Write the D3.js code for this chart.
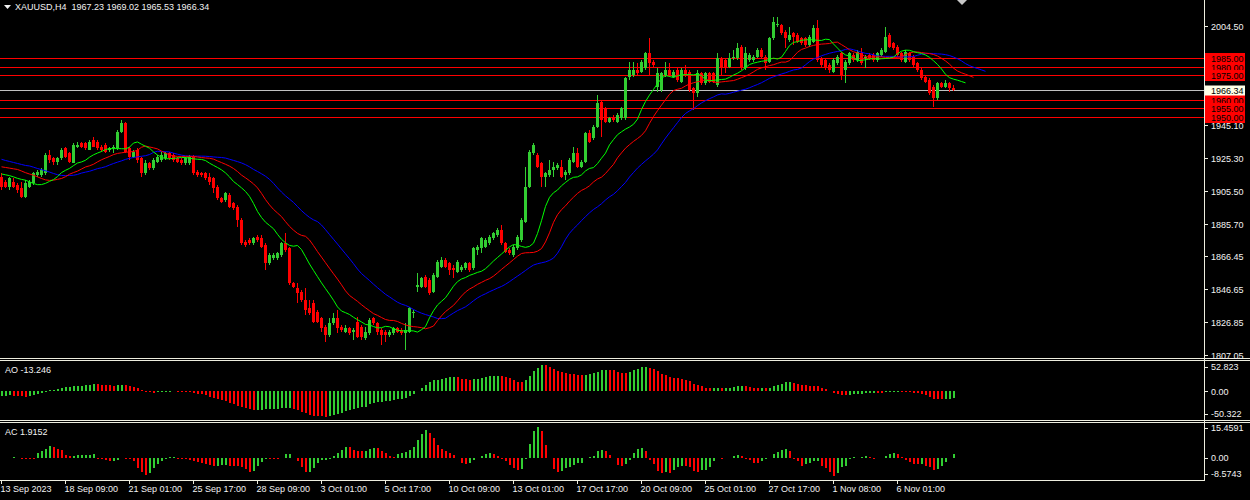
<!DOCTYPE html>
<html>
<head>
<meta charset="utf-8">
<script src="https://cdn.jsdelivr.net/npm/d3@7"></script>
<style>
html, body { margin: 0; padding: 0; background: #000; overflow: hidden; }
svg { display: block; }
text { font-family: "Liberation Sans", Arial, sans-serif; font-size: 9px; white-space: pre; }
</style>
</head>
<body>
<svg id="chart" width="1250" height="500"></svg>
<script>
// XAUUSD H4 candles (bar 0 = 13 Sep 2023)
const opens = [
1914,1911,1908,1911,1909,1907,1902,1908,1910,1915,1915,1916,1927,1925,1923,1925,1931,1928,1922,1932,
1934,1934,1930,1936,1935,1932,1933,1930,1931,1931,1941,1946,1931,1926,1930,1925,1916,1922,1919,1923,
1924,1925,1928,1927,1925,1924,1922,1922,1926,1917,1916,1916,1914,1913,1908,1901,1900,1903,1898,1896,
1888,1875,1876,1874,1878,1877,1873,1862,1865,1865,1867,1874,1871,1850,1847,1845,1840,1835,1838,1833,
1829,1824,1819,1826,1829,1824,1821,1823,1821,1827,1824,1817,1820,1829,1826,1822,1821,1819,1820,1823,
1822,1820,1821,1832,1848,1848,1854,1852,1845,1854,1860,1864,1862,1859,1857,1858,1859,1862,1859,1870,
1871,1872,1874,1877,1879,1882,1874,1870,1867,1871,1876,1887,1908,1928,1927,1922,1914,1915,1918,1919,
1920,1915,1916,1923,1928,1920,1923,1940,1937,1944,1959,1955,1947,1950,1947,1949,1949,1974,1975,1978,
1977,1979,1988,1983,1968,1966,1975,1978,1974,1978,1971,1978,1977,1967,1964,1976,1970,1976,1976,1969,
1985,1984,1980,1985,1985,1992,1979,1984,1984,1986,1990,1986,1983,1997,2005,2005,2001,1996,2000,1999,
1997,1997,1993,1995,2003,1985,1984,1981,1977,1982,1988,1978,1982,1987,1984,1988,1985,1987,1987,1984,
1987,1989,1999,1994,1992,1988,1983,1988,1986,1982,1978,1974,1972,1968,1961,1970,1968,1970,1967.23
];
const highs = [
1916,1912,1914,1913,1910,1911,1912,1912,1917,1918,1919,1928,1930,1926,1926,1931,1932,1929,1934,1935,
1935,1935,1936,1938,1936,1933,1934,1932,1933,1942,1948,1947,1932,1930,1931,1926,1924,1923,1925,1927,
1929,1929,1929,1928,1926,1925,1926,1927,1927,1918,1917,1917,1916,1914,1909,1902,1905,1904,1899,1897,
1889,1876,1877,1878,1879,1879,1874,1868,1868,1869,1875,1880,1872,1851,1850,1846,1847,1840,1840,1834,
1830,1825,1829,1832,1834,1825,1825,1824,1823,1830,1825,1824,1829,1830,1827,1823,1822,1822,1824,1824,
1823,1826,1836,1834,1856,1854,1855,1853,1856,1864,1866,1865,1863,1861,1864,1861,1863,1863,1872,1873,
1878,1877,1879,1881,1883,1885,1875,1871,1873,1879,1889,1920,1930,1934,1928,1923,1917,1924,1923,1922,
1924,1918,1925,1932,1931,1924,1941,1942,1945,1963,1960,1956,1950,1951,1952,1956,1974,1983,1983,1982,
1984,1989,1997,1984,1979,1977,1983,1982,1978,1980,1979,1981,1978,1968,1978,1977,1977,1977,1977,1988,
1986,1985,1988,1990,1994,1993,1992,1988,1987,1991,1991,1987,1998,2010,2010,2006,2002,2004,2001,2000,
1998,1998,1999,2005,2008,1986,1985,1982,1985,1987,1989,1984,1989,1988,1990,1991,1987,1988,1988,1989,
1991,2004,2000,1995,1993,1989,1990,1989,1987,1983,1979,1975,1973,1969,1971,1971,1972,1971,1969.02
];
const lows = [
1906,1907,1906,1907,1904,1901,1901,1907,1909,1914,1914,1915,1922,1921,1921,1924,1925,1922,1922,1931,
1931,1930,1930,1932,1930,1929,1928,1929,1928,1930,1940,1928,1924,1925,1922,1914,1915,1918,1918,1922,
1923,1924,1924,1923,1922,1921,1921,1921,1915,1914,1914,1912,1909,1904,1900,1898,1899,1895,1894,1884,
1873,1872,1873,1873,1875,1871,1858,1861,1864,1864,1866,1869,1849,1847,1838,1839,1831,1831,1826,1826,
1821,1815,1818,1825,1820,1821,1820,1819,1816,1817,1816,1816,1819,1825,1819,1813,1815,1818,1819,1820,
1819,1810,1820,1829,1845,1847,1847,1843,1844,1853,1859,1859,1855,1853,1856,1857,1858,1857,1858,1867,
1868,1871,1873,1876,1878,1873,1868,1867,1866,1870,1875,1886,1907,1927,1919,1908,1908,1914,1914,1918,
1913,1912,1915,1922,1919,1919,1922,1934,1936,1943,1938,1946,1946,1947,1946,1948,1948,1972,1974,1975,
1976,1978,1975,1979,1965,1965,1974,1974,1973,1971,1970,1974,1965,1954,1962,1969,1969,1970,1970,1968,
1975,1976,1979,1984,1984,1978,1978,1983,1983,1985,1985,1978,1982,1996,2004,1999,1991,1995,1993,1994,
1993,1992,1992,1994,1983,1980,1978,1976,1976,1981,1972,1970,1981,1983,1983,1981,1979,1984,1983,1983,
1986,1988,1991,1990,1986,1983,1982,1983,1980,1977,1972,1970,1963,1956,1960,1967,1967,1965,1965.53
];
const closes = [
1908,1908,1913,1908,1906,1902,1910,1911,1916,1917,1918,1927,1924,1923,1925,1930,1926,1923,1933,1933,
1932,1931,1935,1932,1931,1930,1929,1931,1932,1941,1946,1929,1926,1929,1924,1916,1922,1919,1924,1926,
1927,1928,1925,1924,1923,1922,1925,1926,1916,1915,1915,1913,1911,1907,1901,1899,1904,1896,1895,1888,
1874,1873,1874,1877,1876,1872,1862,1867,1867,1868,1874,1870,1850,1848,1844,1840,1834,1832,1827,1827,
1823,1819,1826,1829,1823,1822,1823,1820,1822,1818,1818,1821,1828,1826,1821,1819,1819,1821,1823,1821,
1820,1822,1835,1833,1849,1853,1848,1844,1855,1863,1864,1860,1858,1858,1863,1860,1862,1858,1871,1872,
1877,1876,1878,1880,1882,1874,1869,1868,1872,1878,1888,1908,1929,1933,1920,1914,1916,1918,1920,1921,
1914,1917,1924,1928,1920,1923,1940,1935,1944,1958,1948,1947,1949,1948,1951,1955,1973,1978,1978,1976,
1983,1988,1982,1981,1976,1976,1978,1975,1977,1972,1978,1975,1966,1964,1976,1970,1976,1971,1971,1985,
1980,1980,1985,1986,1991,1979,1988,1987,1986,1990,1986,1982,1997,2007,2005.5,2000,1997,1999,1998,1995,
1994,1993,1998,2003,1984,1981,1979,1978,1984,1986,1975,1983,1988,1984,1989,1982,1986,1985,1984,1988,
1990,1998,1992,1991,1987,1984,1989,1984,1981,1978,1973,1971,1964,1961,1970,1968,1970,1967,1966.34
];

const aoValues = [
-9.0,-8.3,-7.7,-8.3,-8.6,-9.9,-10.3,-8.3,-7.0,-5.6,-3.0,-1.0,2.3,3.6,4.3,6.3,8.3,9.0,10.3,11.0,
11.6,13.0,13.6,14.3,14.1,13.0,12.7,12.3,11.0,12.3,13.0,12.3,11.0,9.6,6.3,3.6,-0.3,-1.6,-2.3,-1.6,
-1.0,-0.3,-0.1,0.3,-0.3,-0.6,-1.0,-1.6,-3.0,-4.3,-5.6,-7.6,-10.3,-12.3,-14.9,-16.9,-18.9,-22.2,-25.6,-28.9,
-31.5,-33.5,-35.5,-36.8,-36.4,-36.0,-35.5,-35.1,-34.7,-34.2,-33.8,-33.4,-32.9,-34.9,-36.8,-40.2,-43.5,-46.9,-48.2,-48.4,
-48.9,-50.322,-49.9,-47.5,-45.5,-42.2,-38.8,-36.8,-35.5,-33.5,-31.5,-30.2,-25.6,-23.6,-21.6,-20.2,-19.6,-18.3,-16.9,-15.6,
-14.9,-12.3,-8.3,-5.6,0.3,6.3,13.0,18.3,22.9,23.2,24.9,26.2,28.2,28.4,28.1,24.9,24.2,22.9,24.2,24.9,
26.2,28.2,30.2,30.9,31.1,30.8,29.6,26.2,22.9,18.3,18.0,22.9,30.9,40.8,47.5,52.823,52.7,49.5,44.8,40.8,
38.2,36.2,34.9,34.8,32.9,32.8,32.9,34.9,36.2,38.2,42.8,42.9,42.7,42.6,38.2,36.2,36.1,38.2,42.8,44.8,
48.2,48.3,46.2,44.2,40.8,34.9,32.9,29.6,27.6,27.4,24.9,22.9,20.9,14.9,13.0,11.0,7.6,7.5,7.6,7.7,
7.5,7.7,7.8,9.6,11.3,11.4,11.0,8.3,7.0,6.9,7.1,6.9,7.1,11.0,13.0,14.9,18.3,18.4,16.3,14.9,
13.0,12.9,11.0,10.9,10.8,7.0,5.0,0.3,-3.6,-5.0,-7.0,-7.1,-6.3,-5.0,-4.9,-4.3,-3.0,-2.9,-2.8,-2.9,
-3.0,-1.2,-0.9,-0.7,-0.5,-0.8,-0.9,-1.2,-3.6,-3.7,-4.3,-7.0,-10.3,-14.3,-15.6,-15.7,-15.3,-14.6,-13.246
];
const acValues = [
0.1,0.2,0.3,0.4,0.3,-0.2,-0.3,-0.4,-0.5,2.5,3.4,4.7,5.8,5.7,4.7,4.2,1.7,1.2,1.3,1.4,
1.6,1.7,1.8,1.9,-0.2,-0.3,-0.7,-1.5,-1.2,-0.8,0.2,-0.3,-0.5,-1.6,-4.8,-6.8,-8.1,-7.3,-4.8,-2.9,
-1.2,-0.3,0.7,0.8,-0.2,-0.4,-0.5,-0.8,-1.2,-1.9,-2.4,-2.9,-3.2,-3.7,-3.6,-3.5,-3.4,-3.7,-3.8,-4.0,
-4.5,-5.3,-6.8,-6.1,-3.7,-1.9,-0.2,-0.3,-0.4,-0.5,0.3,2.0,2.2,0.2,-1.3,-4.1,-7.0,-6.7,-4.9,-2.5,
-1.0,-0.8,-0.2,1.1,2.5,3.9,5.6,5.5,4.1,3.6,3.5,3.6,4.4,5.2,4.9,3.6,2.8,1.1,0.8,2.0,
2.4,3.1,4.1,5.6,8.8,11.8,13.7,12.3,10.1,6.4,4.4,3.6,2.8,1.6,-0.1,-2.1,-2.6,-2.1,-0.8,0.1,
1.1,2.0,2.5,2.0,1.1,-0.2,-1.3,-3.3,-5.0,-6.0,-5.2,-0.3,7.0,13.4,15.4591,13.4,6.5,0.3,-5.2,-7.0,
-6.5,-4.9,-4.4,-3.3,-2.5,-2.1,-0.1,0.8,1.3,3.3,4.1,3.6,1.6,-0.1,-3.3,-3.6,-2.8,-0.8,2.5,4.6,
5.2,3.3,-0.8,-2.8,-6.2,-7.4,-7.0,-7.1,-6.0,-4.1,-3.8,-3.9,-4.4,-6.5,-6.6,-6.0,-5.9,-4.1,-1.6,0.0,
-0.3,-0.1,0.2,0.9,1.4,1.2,-0.5,-1.1,-2.1,-2.5,-1.3,-0.5,0.0,2.0,2.9,4.1,4.6,3.6,-0.5,-1.6,
-3.6,-2.8,-2.5,-1.6,-1.5,-3.8,-4.9,-7.0,-8.5743,-7.4,-4.4,-3.6,-0.2,0.6,0.3,0.5,1.0,0.5,-0.2,-0.1,
0.0,1.3,2.1,2.8,2.0,0.5,-0.8,-2.0,-2.9,-3.0,-2.9,-3.6,-4.4,-6.0,-5.4,-3.8,-2.0,-0.1,1.9152
];

// Alligator lines as they stand at the left edge (before the first computed value)
const jawHead = [1924.5, 1923.8, 1923.2, 1922.6, 1922.0, 1921.4, 1920.8, 1920.5];
const teethHead = [1920.0, 1919.6, 1919.2, 1918.8, 1918.4];
const lipsHead = [1915.7, 1915.2, 1914.7];

// horizontal levels and axis labels
const levels = [1985, 1980, 1975, 1960, 1955, 1950];
const lastPrice = 1966.34;
const priceTicks = [2004.50, 1945.10, 1925.30, 1905.50, 1885.70, 1866.45, 1846.65, 1826.85, 1807.05];
const aoTicks = [52.823, 0, -50.322];
const acTicks = [15.4591, 0, -8.5743];
const dateLabels = ["13 Sep 2023", "18 Sep 09:00", "21 Sep 01:00", "25 Sep 17:00", "28 Sep 09:00",
    "3 Oct 01:00", "5 Oct 17:00", "10 Oct 09:00", "13 Oct 01:00", "17 Oct 17:00", "20 Oct 09:00",
    "25 Oct 01:00", "27 Oct 17:00", "1 Nov 08:00", "6 Nov 01:00"];
const barsPerLabel = 16;

const svg = d3.select("#chart");
const axisX = 1204;
const bull = "#32CD32", bear = "#FF0000", frameColor = "#EDEDDF", textColor = "#F2F2F2";

const x = d3.scaleLinear().domain([0, 300]).range([1.5, 1201.5]);
const y = d3.scaleLinear().domain([2004.5, 1807.05]).range([26, 355]);
const yAO = d3.scaleLinear().domain([52.823, -50.322]).range([365, 416.7]);
const yAC = d3.scaleLinear().domain([15.4591, -8.5743]).range([426.7, 475.7]);

svg.append("rect").attr("width", 1250).attr("height", 500).attr("fill", "#000");

const defs = svg.append("defs");
defs.append("clipPath").attr("id", "mainClip")
    .append("rect").attr("x", 0).attr("y", 0).attr("width", axisX).attr("height", 358);

const main = svg.append("g").attr("clip-path", "url(#mainClip)");

// level lines
main.selectAll("line.level").data(levels).enter().append("line")
    .attr("class", "level")
    .attr("x1", 0).attr("x2", axisX)
    .attr("y1", (d) => Math.round(y(d)) + 0.5).attr("y2", (d) => Math.round(y(d)) + 0.5)
    .attr("stroke", "#FF0000").attr("stroke-width", 1)
    .attr("shape-rendering", "crispEdges");

main.append("line")
    .attr("x1", 0).attr("x2", axisX)
    .attr("y1", Math.round(y(lastPrice)) + 0.5).attr("y2", Math.round(y(lastPrice)) + 0.5)
    .attr("stroke", "#C0C0C0").attr("stroke-width", 1)
    .attr("shape-rendering", "crispEdges");

// candles
const bars = d3.range(closes.length).map((i) => ({
    i, o: opens[i], h: highs[i], l: lows[i], c: closes[i]
}));

main.selectAll("rect.wick").data(bars).enter().append("rect")
    .attr("class", "wick")
    .attr("x", (d) => x(d.i) - 0.5)
    .attr("y", (d) => Math.round(y(d.h)))
    .attr("width", 1)
    .attr("height", (d) => Math.max(1, Math.round(y(d.l)) - Math.round(y(d.h))))
    .attr("fill", (d) => (d.c >= d.o ? bull : bear))
    .attr("shape-rendering", "crispEdges");

main.selectAll("rect.body").data(bars).enter().append("rect")
    .attr("class", "body")
    .attr("x", (d) => x(d.i) - 1.5)
    .attr("y", (d) => Math.round(y(Math.max(d.o, d.c))))
    .attr("width", 3)
    .attr("height", (d) => Math.max(1, Math.round(y(Math.min(d.o, d.c))) - Math.round(y(Math.max(d.o, d.c)))))
    .attr("fill", (d) => (d.c >= d.o ? bull : bear))
    .attr("shape-rendering", "crispEdges");

// alligator (smoothed median price, shifted forward)
const medians = bars.map((d) => (d.h + d.l) / 2);
const smmaPoints = (head, period, shift) => {
    const pts = head.map((v, k) => [k, v]);
    let prev = head[head.length - 1];
    medians.forEach((m, i) => {
        prev = (prev * (period - 1) + m) / period;
        pts.push([i + shift, prev]);
    });
    return pts;
};
const line = d3.line().x((d) => x(d[0])).y((d) => y(d[1]));
[
    { pts: smmaPoints(jawHead, 13, 8), color: "#0000FF" },
    { pts: smmaPoints(teethHead, 8, 5), color: "#FF0000" },
    { pts: smmaPoints(lipsHead, 5, 3), color: "#00FF00" },
].forEach((s) => {
    main.append("path").attr("d", line(s.pts))
        .attr("fill", "none").attr("stroke", s.color).attr("stroke-width", 1);
});

// shift marker
svg.append("polygon").attr("points", "957,0 967,0 962,5").attr("fill", "#C8C8C8");

// header
svg.append("polygon").attr("points", "4,5 11,5 7.5,9").attr("fill", textColor);
svg.append("text").attr("x", 15).attr("y", 10).attr("fill", textColor)
    .text("XAUUSD,H4  " + [opens, highs, lows, closes].map((a) => a[a.length - 1].toFixed(2)).join(" "));

// oscillator histograms
const drawHisto = (values, scale, cls) => {
    svg.selectAll("rect." + cls).data(values).enter().append("rect")
        .attr("class", cls)
        .attr("x", (d, i) => x(i) - 1)
        .attr("width", 2)
        .attr("y", (d) => Math.round(Math.min(scale(d), scale(0))))
        .attr("height", (d) => Math.abs(Math.round(scale(d)) - Math.round(scale(0))))
        .attr("fill", (d, i) => (i === 0 || d > values[i - 1] ? bull : bear))
        .attr("shape-rendering", "crispEdges");
};
drawHisto(aoValues, yAO, "ao");
drawHisto(acValues, yAC, "ac");

svg.append("text").attr("x", 5).attr("y", 373).attr("fill", textColor)
    .text("AO " + aoValues[aoValues.length - 1].toFixed(3));
svg.append("text").attr("x", 5).attr("y", 435).attr("fill", textColor)
    .text("AC " + acValues[acValues.length - 1].toFixed(4));

// frames
const hLine = (yy, x2) => svg.append("line").attr("x1", 0).attr("x2", x2)
    .attr("y1", yy + 0.5).attr("y2", yy + 0.5).attr("stroke", frameColor).attr("stroke-width", 1)
    .attr("shape-rendering", "crispEdges");
hLine(358, 1250);
hLine(360, 1250);
hLine(420, 1250);
hLine(422, 1250);
hLine(480, axisX);
svg.append("line").attr("x1", axisX + 0.5).attr("x2", axisX + 0.5).attr("y1", 0).attr("y2", 481)
    .attr("stroke", frameColor).attr("stroke-width", 1).attr("shape-rendering", "crispEdges");

// price axis
const pAxis = svg.append("g");
priceTicks.forEach((v) => {
    const yy = Math.round(y(v)) + 0.5;
    pAxis.append("line").attr("x1", axisX).attr("x2", axisX + 4).attr("y1", yy).attr("y2", yy)
        .attr("stroke", frameColor).attr("shape-rendering", "crispEdges");
    pAxis.append("text").attr("x", axisX + 7).attr("y", yy).attr("dy", "0.35em")
        .attr("fill", textColor).text(v.toFixed(2));
});

levels.forEach((v) => {
    const yy = Math.round(y(v)) + 0.5;
    pAxis.append("rect").attr("x", axisX + 1).attr("y", yy - 5.5).attr("width", 40).attr("height", 11)
        .attr("fill", "#FF0000");
    pAxis.append("text").attr("x", axisX + 7).attr("y", yy).attr("dy", "0.35em")
        .attr("fill", "#000").text(v.toFixed(2));
});
{
    const yy = Math.round(y(lastPrice)) + 0.5;
    pAxis.append("rect").attr("x", axisX + 1).attr("y", yy - 5).attr("width", 40).attr("height", 10)
        .attr("fill", "#FFFFE6");
    pAxis.append("text").attr("x", axisX + 7).attr("y", yy).attr("dy", "0.35em")
        .attr("fill", "#000").text(lastPrice.toFixed(2));
}

// oscillator axes
const oscAxis = (ticks, scale, top, bottom, fmt) => {
    ticks.forEach((v) => {
        const yy = Math.max(top + 6, Math.min(bottom - 6, scale(v)));
        svg.append("line").attr("x1", axisX).attr("x2", axisX + 4)
            .attr("y1", Math.round(yy) + 0.5).attr("y2", Math.round(yy) + 0.5).attr("stroke", frameColor)
            .attr("shape-rendering", "crispEdges");
        svg.append("text").attr("x", axisX + 7).attr("y", yy).attr("dy", "0.35em")
            .attr("fill", textColor).text(v === 0 ? "0.00" : fmt(v));
    });
};
oscAxis(aoTicks, yAO, 361, 420, (v) => v.toFixed(3));
oscAxis(acTicks, yAC, 422, 480, (v) => v.toFixed(4));

// time axis
dateLabels.forEach((label, k) => {
    const xx = x(k * barsPerLabel);
    svg.append("line").attr("x1", xx).attr("x2", xx).attr("y1", 480).attr("y2", 484)
        .attr("stroke", frameColor).attr("shape-rendering", "crispEdges");
    svg.append("text").attr("x", Math.max(0, xx - 1)).attr("y", 492)
        .attr("fill", textColor).text(label);
});
</script>
</body>
</html>
